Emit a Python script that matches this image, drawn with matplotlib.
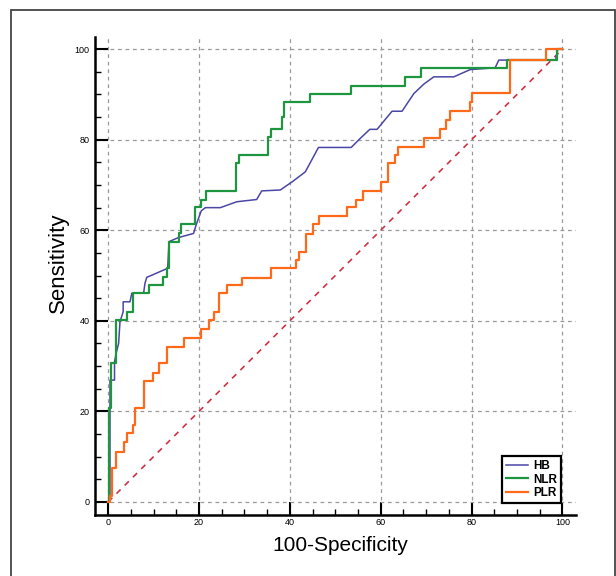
# ROC CURVES FOR HB, NLR AND PLR

import matplotlib.pyplot as plt
from matplotlib.patches import Rectangle


# DATA

# HB: polyline vertices (100-specificity, sensitivity)
hb_x = [0, 0.4, 0.4, 1.4, 1.4, 1.8, 2.3, 2.6, 3.3, 3.3, 4.8, 5.2, 7.8, 8.1, 8.5,
        13.1, 13.4, 15.5, 18.8, 19.4, 20.5, 21.4, 24.7, 28.3, 32.7, 33.8, 37.9,
        40.5, 43.4, 46.3, 53.5, 55.5, 57.6, 59.2, 62.5, 64.7, 67.3, 69.5, 71.7,
        76.1, 79.7, 85.2, 86.0, 98.5, 99.0, 100]
hb_y = [0, 0, 26.9, 26.9, 31.0, 33.0, 35.0, 39.8, 42.0, 44.2, 44.2, 46.1, 46.1,
        48.3, 49.6, 51.6, 57.5, 58.4, 59.3, 61.3, 64.3, 65.0, 65.0, 66.3, 66.8,
        68.7, 68.9, 70.7, 72.9, 78.3, 78.3, 80.3, 82.3, 82.3, 86.3, 86.3, 90.2,
        92.3, 93.9, 93.9, 95.5, 95.9, 97.6, 97.6, 100, 100]

# NLR: step points (fpr where jump happens, sensitivity after jump)
nlr_x = [0, 0.2, 0.7, 1.7, 4.1, 5.4, 8.9, 12.0, 12.9, 13.4, 15.5, 16.1, 19.2,
         20.5, 21.5, 28.1, 28.7, 35.1, 35.9, 38.3, 38.8, 44.5, 53.5, 65.3, 68.9,
         87.8, 98.8, 100]
nlr_y = [0, 20.7, 30.6, 40.2, 42.0, 46.2, 47.9, 49.7, 51.6, 57.5, 59.3, 61.3,
         65.2, 66.8, 68.7, 74.8, 76.6, 80.6, 82.3, 85.1, 88.3, 90.2, 91.9, 93.9,
         95.9, 97.6, 100, 100]

# PLR: step points
plr_x = [0, 0.4, 0.8, 1.8, 3.4, 4.1, 5.4, 5.9, 7.8, 9.8, 11.2, 12.9, 16.7, 20.5,
         22.3, 23.3, 24.5, 26.1, 29.4, 35.9, 41.4, 42.1, 43.6, 45.2, 46.5, 52.6,
         54.6, 56.1, 60.1, 61.6, 63.2, 63.9, 69.5, 73.1, 74.4, 75.3, 79.7, 80.1,
         88.5, 96.3, 100]
plr_y = [0, 1.2, 7.4, 11.1, 13.3, 15.2, 17.0, 20.8, 26.8, 28.5, 30.6, 34.3, 36.1,
         38.3, 40.2, 42.0, 46.2, 47.9, 49.4, 51.6, 53.4, 55.3, 59.2, 61.3, 63.2,
         65.1, 66.8, 68.7, 70.7, 74.8, 76.6, 78.4, 80.4, 82.3, 84.3, 86.3, 88.4,
         90.4, 97.6, 100, 100]

ref_line = [0, 100]
ticks = [0, 20, 40, 60, 80, 100]


# PLOTTING

plt.rcParams['font.family'] = ['Liberation Sans', 'DejaVu Sans']

fig = plt.figure(figsize=(6.16, 5.76), dpi=100)
fig.patches.append(Rectangle((11 / 616, -0.05), 604 / 616, 1.05 - 10 / 576,
                             transform=fig.transFigure, fill=False,
                             edgecolor='#444444', linewidth=1.3))

ax = fig.add_axes([95 / 616, 1 - 515 / 576, 481 / 616, 478 / 576])

ax.plot(ref_line, ref_line, color='#cc3344', linestyle=(0, (3.5, 3.5)), linewidth=1.2)
ax.plot(hb_x, hb_y, color='#4b47a6', linewidth=1.1, label='HB')
ax.plot(nlr_x, nlr_y, color='#1e9640', linewidth=1.6, drawstyle='steps-post', label='NLR')
ax.plot(plr_x, plr_y, color='#ff6a1a', linewidth=1.6, drawstyle='steps-post', label='PLR')

ax.set_xlim(-2.9, 103)
ax.set_ylim(-2.9, 102.7)
ax.set_xticks(ticks)
ax.set_yticks(ticks)
ax.set_xticks(range(0, 101, 5), minor=True)
ax.set_yticks(range(0, 101, 5), minor=True)

for s in ['top', 'right']:
    ax.spines[s].set_visible(False)
for s in ['left', 'bottom']:
    ax.spines[s].set_linewidth(1.8)

ax.tick_params(which='major', direction='in', length=9.4, width=1.5, labelsize=6.5)
ax.tick_params(which='minor', direction='in', length=4.3, width=1.0)
ax.tick_params(axis='y', which='major', pad=4)
ax.tick_params(axis='x', which='major', pad=2)

ax.grid(True, which='major', color='#9a9a9a', linestyle=(0, (3, 3)), linewidth=0.9)
ax.set_axisbelow(True)

ax.set_xlabel('100-Specificity', fontsize=15, va='top')
ax.xaxis.set_label_coords(0.509, -0.044)
ax.set_ylabel('Sensitivity', fontsize=16)
ax.yaxis.set_label_coords(-0.054, 0.527)

leg = ax.legend(loc='lower right', bbox_to_anchor=(0.969, 0.025), borderaxespad=0,
                fancybox=False, framealpha=1, edgecolor='black', handlelength=1.9,
                handletextpad=0.4, borderpad=0.35, labelspacing=0.12,
                prop={'weight': 'bold', 'size': 8.5})
leg.get_frame().set_linewidth(1.6)

plt.savefig('out.png', dpi=100)
